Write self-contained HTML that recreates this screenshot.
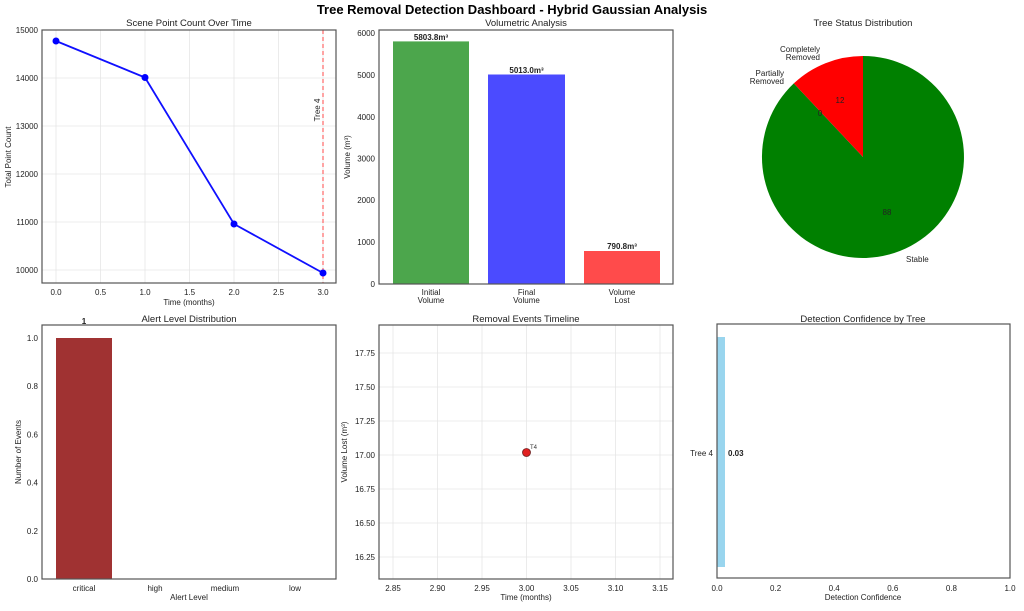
<!DOCTYPE html>
<html><head><meta charset="utf-8"><style>
html,body{margin:0;padding:0;background:#fff;}
svg{display:block;font-family:"Liberation Sans","DejaVu Sans",sans-serif;}
.t{font-size:8px;fill:#222;}
.ti{font-size:9.5px;fill:#222;}
.g{stroke:#e6e6e6;stroke-width:0.8;}
.ax{fill:none;stroke:#555;stroke-width:1.2;}
</style></head><body>
<svg width="1024" height="611" viewBox="0 0 1024 611" xmlns="http://www.w3.org/2000/svg">
<text x="512" y="14" text-anchor="middle" font-size="13" font-weight="bold" fill="#000">Tree Removal Detection Dashboard - Hybrid Gaussian Analysis</text>

<!-- Panel 1 -->
<text class="ti" x="189" y="26" text-anchor="middle">Scene Point Count Over Time</text>
<g class="g">
<line x1="56" y1="30" x2="56" y2="283"/><line x1="100.5" y1="30" x2="100.5" y2="283"/><line x1="145" y1="30" x2="145" y2="283"/><line x1="189.5" y1="30" x2="189.5" y2="283"/><line x1="234" y1="30" x2="234" y2="283"/><line x1="278.5" y1="30" x2="278.5" y2="283"/><line x1="323" y1="30" x2="323" y2="283"/>
<line x1="42" y1="30" x2="336" y2="30"/><line x1="42" y1="78" x2="336" y2="78"/><line x1="42" y1="126" x2="336" y2="126"/><line x1="42" y1="174" x2="336" y2="174"/><line x1="42" y1="222" x2="336" y2="222"/><line x1="42" y1="270" x2="336" y2="270"/>
</g>
<line x1="323" y1="30" x2="323" y2="283" stroke="#ff6666" stroke-width="1.2" stroke-dasharray="4,3"/>
<text class="t" transform="translate(320,110) rotate(-90)" text-anchor="middle">Tree 4</text>
<polyline points="56,41 145,77.5 234,224 323,273" fill="none" stroke="#1010ff" stroke-width="1.8"/>
<g fill="#0000ff"><circle cx="56" cy="41" r="3.5"/><circle cx="145" cy="77.5" r="3.5"/><circle cx="234" cy="224" r="3.5"/><circle cx="323" cy="273" r="3.5"/></g>
<rect class="ax" x="42" y="30" width="294" height="253"/>
<g class="t" text-anchor="end">
<text x="38" y="33">15000</text><text x="38" y="81">14000</text><text x="38" y="129">13000</text><text x="38" y="177">12000</text><text x="38" y="225">11000</text><text x="38" y="273">10000</text></g>
<g class="t" text-anchor="middle">
<text x="56" y="295">0.0</text><text x="100.5" y="295">0.5</text><text x="145" y="295">1.0</text><text x="189.5" y="295">1.5</text><text x="234" y="295">2.0</text><text x="278.5" y="295">2.5</text><text x="323" y="295">3.0</text>
<text x="189" y="305">Time (months)</text></g>
<text class="t" transform="translate(11,157) rotate(-90)" text-anchor="middle">Total Point Count</text>

<!-- Panel 2 -->
<text class="ti" x="526" y="26" text-anchor="middle">Volumetric Analysis</text>
<rect x="393" y="41.4" width="76" height="242.6" fill="#4ca64c"/>
<rect x="488" y="74.5" width="77" height="209.5" fill="#4b4bff"/>
<rect x="584" y="251" width="76" height="33" fill="#ff4b4b"/>
<rect class="ax" x="379" y="30" width="294" height="254"/>
<g class="t" text-anchor="end">
<text x="375" y="287">0</text><text x="375" y="245">1000</text><text x="375" y="203">2000</text><text x="375" y="161.6">3000</text><text x="375" y="119.8">4000</text><text x="375" y="78">5000</text><text x="375" y="36">6000</text></g>
<g class="t" text-anchor="middle" font-weight="bold">
<text x="431" y="40">5803.8m³</text><text x="526.5" y="73">5013.0m³</text><text x="622" y="249">790.8m³</text></g>
<g class="t" text-anchor="middle">
<text x="431" y="295">Initial</text><text x="431" y="303">Volume</text>
<text x="526.5" y="295">Final</text><text x="526.5" y="303">Volume</text>
<text x="622" y="295">Volume</text><text x="622" y="303">Lost</text></g>
<text class="t" transform="translate(350,157) rotate(-90)" text-anchor="middle">Volume (m³)</text>

<!-- Panel 3 -->
<text class="ti" x="863" y="26" text-anchor="middle">Tree Status Distribution</text>
<path d="M863,157 L863,56 A101,101 0 1 1 793.8,83.4 Z" fill="#008000"/>
<path d="M863,157 L793.8,83.4 A101,101 0 0 1 863,56 Z" fill="#ff0000"/>
<g class="t" text-anchor="middle" fill="#000">
<text x="840" y="103">12</text><text x="820" y="116">0</text><text x="887" y="215">88</text></g>
<g class="t" text-anchor="end">
<text x="820" y="52">Completely</text><text x="820" y="60">Removed</text>
<text x="784" y="76">Partially</text><text x="784" y="84">Removed</text></g>
<text class="t" x="906" y="262">Stable</text>

<!-- Panel 4 -->
<text class="ti" x="189" y="322" text-anchor="middle">Alert Level Distribution</text>
<rect x="56" y="338" width="56" height="241" fill="#a03232"/>
<rect class="ax" x="42" y="325" width="294" height="254"/>
<g class="t" text-anchor="end">
<text x="38" y="582">0.0</text><text x="38" y="533.8">0.2</text><text x="38" y="485.6">0.4</text><text x="38" y="437.4">0.6</text><text x="38" y="389.2">0.8</text><text x="38" y="341">1.0</text></g>
<text class="t" x="84" y="324" text-anchor="middle" font-weight="bold">1</text>
<g class="t" text-anchor="middle">
<text x="84" y="591">critical</text><text x="155" y="591">high</text><text x="225" y="591">medium</text><text x="295" y="591">low</text>
<text x="189" y="600">Alert Level</text></g>
<text class="t" transform="translate(21,452) rotate(-90)" text-anchor="middle">Number of Events</text>

<!-- Panel 5 -->
<text class="ti" x="526" y="322" text-anchor="middle">Removal Events Timeline</text>
<g class="g">
<line x1="393" y1="325" x2="393" y2="579"/><line x1="437.5" y1="325" x2="437.5" y2="579"/><line x1="482" y1="325" x2="482" y2="579"/><line x1="526.5" y1="325" x2="526.5" y2="579"/><line x1="571" y1="325" x2="571" y2="579"/><line x1="615.5" y1="325" x2="615.5" y2="579"/><line x1="660" y1="325" x2="660" y2="579"/>
<line x1="379" y1="353" x2="673" y2="353"/><line x1="379" y1="387" x2="673" y2="387"/><line x1="379" y1="421" x2="673" y2="421"/><line x1="379" y1="455" x2="673" y2="455"/><line x1="379" y1="489" x2="673" y2="489"/><line x1="379" y1="523" x2="673" y2="523"/><line x1="379" y1="557" x2="673" y2="557"/>
</g>
<circle cx="526.5" cy="452.5" r="4" fill="#e02020" stroke="#702020" stroke-width="0.8"/>
<text x="530" y="449" font-size="6" fill="#333">T4</text>
<rect class="ax" x="379" y="325" width="294" height="254"/>
<g class="t" text-anchor="end">
<text x="375" y="356">17.75</text><text x="375" y="390">17.50</text><text x="375" y="424">17.25</text><text x="375" y="458">17.00</text><text x="375" y="492">16.75</text><text x="375" y="526">16.50</text><text x="375" y="560">16.25</text></g>
<g class="t" text-anchor="middle">
<text x="393" y="591">2.85</text><text x="437.5" y="591">2.90</text><text x="482" y="591">2.95</text><text x="526.5" y="591">3.00</text><text x="571" y="591">3.05</text><text x="615.5" y="591">3.10</text><text x="660" y="591">3.15</text>
<text x="526" y="600">Time (months)</text></g>
<text class="t" transform="translate(347,452) rotate(-90)" text-anchor="middle">Volume Lost (m³)</text>

<!-- Panel 6 -->
<text class="ti" x="863" y="322" text-anchor="middle">Detection Confidence by Tree</text>
<rect x="717" y="337" width="8" height="230" fill="#87ceeb" opacity="0.85"/>
<rect class="ax" x="717" y="324" width="293" height="254"/>
<text class="t" x="713" y="456" text-anchor="end">Tree 4</text>
<text class="t" x="728" y="456" font-weight="bold">0.03</text>
<g class="t" text-anchor="middle">
<text x="717" y="591">0.0</text><text x="775.6" y="591">0.2</text><text x="834.2" y="591">0.4</text><text x="892.8" y="591">0.6</text><text x="951.4" y="591">0.8</text><text x="1010" y="591">1.0</text>
<text x="863" y="600">Detection Confidence</text></g>
</svg>
</body></html>
